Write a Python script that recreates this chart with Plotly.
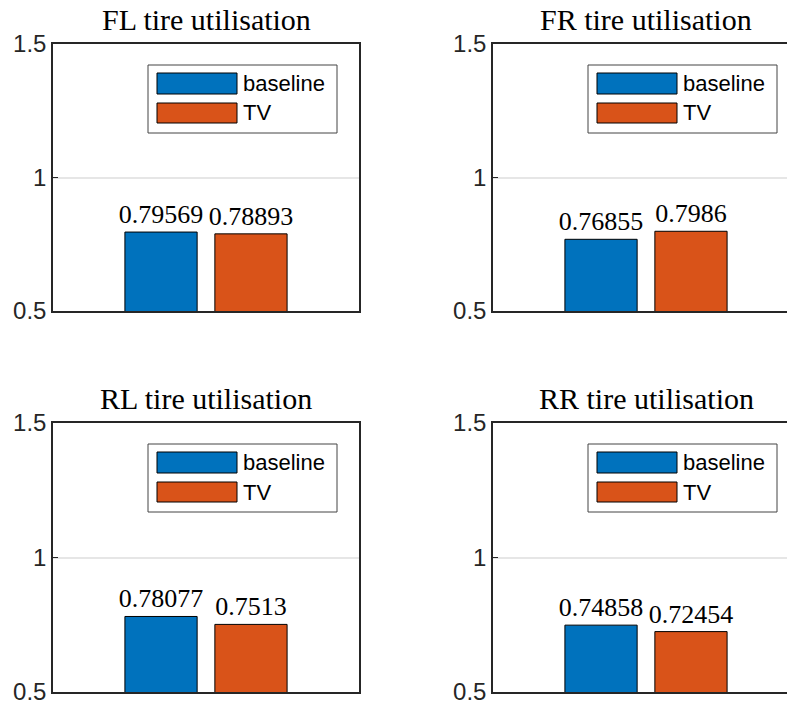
import plotly.graph_objects as go

# Tire utilisation per wheel, baseline vs torque vectoring (TV)
wheels = ["FL", "FR", "RL", "RR"]
series_names = ["baseline", "TV"]
baseline_vals = [0.79569, 0.76855, 0.78077, 0.74858]
tv_vals = [0.78893, 0.7986, 0.7513, 0.72454]
y_tick_vals = [0.5, 1, 1.5]
y_tick_text = ["0.5", "1", "1.5"]
series_colors = ["#0072BD", "#D95319"]

W, H = 787, 708
AX_W = 306                      # axis width in px for one x unit
COL_LEFT = [53, 493]            # left edge of each column (px)
ROW_TOP = [44, 423]             # top edge of each row (px)
ROW_BOT = [311, 692]            # bottom edge of each row (px)

BAR_W = 0.236
BAR_OFFSETS = [-0.265, 0.029]

AXIS_COLOR = "#262626"
SANS = "Liberation Sans, Arial, sans-serif"
SERIF = "Liberation Serif, Times New Roman, serif"

fig = go.Figure()
layout = dict(
    width=W, height=H,
    margin=dict(l=0, r=0, t=0, b=0, autoexpand=False),
    paper_bgcolor="white", plot_bgcolor="white",
    barmode="overlay", showlegend=False,
    shapes=[], annotations=[],
)

for i, wheel in enumerate(wheels):
    row, col = divmod(i, 2)
    n = i + 1
    xa = "x" if n == 1 else f"x{n}"
    ya = "y" if n == 1 else f"y{n}"
    left = COL_LEFT[col]
    right = min(left + AX_W, W)
    x_hi = 0.5 + (right - left) / AX_W

    vals = [baseline_vals[i], tv_vals[i]]
    for s, name in enumerate(series_names):
        fig.add_trace(go.Bar(
            x=[1], y=[vals[s]], base=0, name=name,
            width=BAR_W, offset=BAR_OFFSETS[s],
            marker=dict(color=series_colors[s], line=dict(color="black", width=1)),
            text=[str(vals[s])], textposition="outside", constraintext="none",
            textfont=dict(family=SERIF, size=26, color="black"),
            cliponaxis=False,
            xaxis=xa, yaxis=ya,
        ))

    layout["xaxis" if n == 1 else f"xaxis{n}"] = dict(
        domain=[left / W, right / W], range=[0.5, x_hi],
        anchor=ya, showline=True, linecolor=AXIS_COLOR, linewidth=1.5,
        mirror=True, showticklabels=False, ticks="", showgrid=False,
        zeroline=False, fixedrange=True, automargin=False,
    )
    layout["yaxis" if n == 1 else f"yaxis{n}"] = dict(
        domain=[1 - ROW_BOT[row] / H, 1 - ROW_TOP[row] / H],
        range=[0.5, 1.5], anchor=xa,
        tickvals=y_tick_vals, ticktext=y_tick_text,
        tickfont=dict(family=SANS, size=24, color=AXIS_COLOR),
        ticks="inside", ticklen=5, tickcolor=AXIS_COLOR, tickwidth=1,
        showline=True, linecolor=AXIS_COLOR, linewidth=1.5,
        mirror=(col == 0),
        showgrid=True, gridcolor="#e6e6e6", gridwidth=1.5,
        zeroline=False, fixedrange=True, automargin=False,
    )

    # panel title
    layout["annotations"].append(dict(
        text=f"{wheel} tire utilisation",
        xref="paper", yref="paper",
        x=(left + AX_W / 2) / W, y=1 - (ROW_TOP[row] - 25) / H,
        xanchor="center", yanchor="middle", showarrow=False,
        font=dict(family=SERIF, size=30, color="black"),
    ))

    # legend box with colour patches
    ppu = ROW_BOT[row] - ROW_TOP[row]   # px per y unit
    def ydat(px_from_top):
        return 1.5 - px_from_top / ppu
    def xdat(px):
        return 0.5 + (px - COL_LEFT[0]) / AX_W

    layout["shapes"].append(dict(
        type="rect", xref=xa, yref=ya,
        x0=xdat(148), x1=xdat(337), y0=ydat(89), y1=ydat(21),
        line=dict(color="#444444", width=1), fillcolor="white", layer="above",
    ))
    patch_rows = [(29, 50), (59, 79)]
    for s, name in enumerate(series_names):
        top_px, bot_px = patch_rows[s]
        layout["shapes"].append(dict(
            type="rect", xref=xa, yref=ya,
            x0=xdat(157), x1=xdat(237), y0=ydat(bot_px), y1=ydat(top_px),
            line=dict(color="black", width=1), fillcolor=series_colors[s],
            layer="above",
        ))
        layout["annotations"].append(dict(
            text=name, xref=xa, yref=ya,
            x=xdat(241), y=ydat((top_px + bot_px) / 2),
            xanchor="left", yanchor="middle", showarrow=False,
            font=dict(family=SANS, size=22, color="black"),
        ))

fig.update_layout(**layout)
fig.write_html("out.html")
